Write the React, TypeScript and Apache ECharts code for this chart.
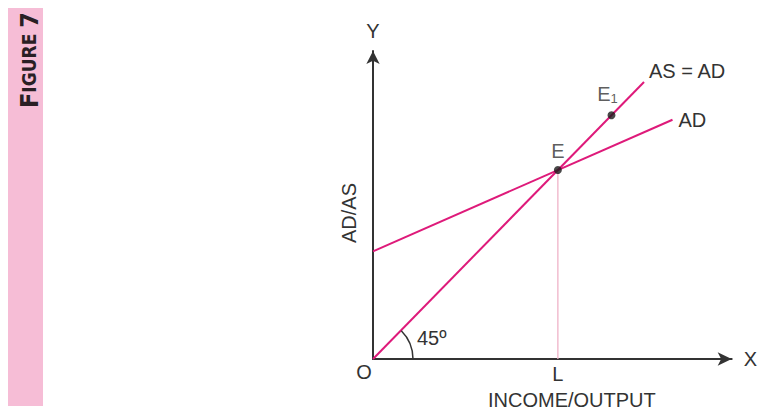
import React, { useEffect, useRef } from "react";
import * as echarts from "echarts";

// Keynesian cross: aggregate supply (45° line) against aggregate demand
const xMax = 97;
const yMax = 81.5;
const originPoint = [0, 0];
const equilibrium = [50, 50]; // E
const pointE1 = [64.5, 64.5]; // E1
const asLine = [
  [0, 0],
  [73.3, 73.3],
];
const adLine = [
  [0, 28.5],
  [81, 63.3],
];
const incomeLine = [
  [50, 0],
  [50, 50],
];
const xTickValues = [50];
const xTickLabels = ["L"];

const FONT = '"Liberation Sans", Arial, Helvetica, sans-serif';
const INK = "#333333";
const MAGENTA = "#de1a7a";
const SOFT_PINK = "#efb2c8";
const BAND_PINK = "#f6bdd6";

export default function App() {
  const ref = useRef<HTMLDivElement>(null);

  useEffect(() => {
    document.body.style.margin = "0";
    if (!ref.current) return;
    const chart = echarts.init(ref.current, undefined, { renderer: "svg" });

    const text = (size = 20) => ({ fontSize: size, color: INK, fontFamily: FONT });

    chart.setOption({
      animation: false,
      grid: { left: 373, right: 20, top: 51, bottom: 52 },
      xAxis: {
        type: "value",
        min: 0,
        max: xMax,
        name: "X",
        nameLocation: "end",
        nameGap: 12,
        nameTextStyle: text(),
        axisLine: {
          show: true,
          onZero: false,
          symbol: ["none", "arrow"],
          symbolSize: [10, 14],
          lineStyle: { color: INK, width: 2 },
        },
        axisTick: { show: false },
        splitLine: { show: false },
        axisLabel: {
          customValues: xTickValues,
          formatter: (v: number) => xTickLabels[xTickValues.indexOf(v)] ?? "",
          margin: 5,
          ...text(),
        },
      },
      yAxis: {
        type: "value",
        min: 0,
        max: yMax,
        name: "Y",
        nameLocation: "end",
        nameGap: 10,
        nameTextStyle: text(),
        axisLine: {
          show: true,
          onZero: false,
          symbol: ["none", "arrow"],
          symbolSize: [10, 13],
          lineStyle: { color: INK, width: 2 },
        },
        axisTick: { show: false },
        splitLine: { show: false },
        axisLabel: { show: false },
      },
      series: [
        {
          name: "L",
          type: "line",
          data: incomeLine,
          showSymbol: false,
          lineStyle: { color: SOFT_PINK, width: 1.3 },
          z: 1,
        },
        {
          name: "AS = AD",
          type: "line",
          data: asLine,
          showSymbol: false,
          lineStyle: { color: MAGENTA, width: 2 },
          endLabel: {
            show: true,
            formatter: "AS = AD",
            distance: 5,
            offset: [0, -11],
            ...text(),
          },
          z: 3,
        },
        {
          name: "AD",
          type: "line",
          data: adLine,
          showSymbol: false,
          lineStyle: { color: MAGENTA, width: 2 },
          endLabel: {
            show: true,
            formatter: "AD",
            distance: 6,
            ...text(),
          },
          z: 3,
        },
        {
          name: "points",
          type: "scatter",
          symbolSize: 8,
          itemStyle: { color: "#1a1a1a" },
          z: 5,
          data: [
            {
              value: equilibrium,
              label: { show: true, position: "top", distance: 5, formatter: "E", ...text() },
            },
            {
              value: pointE1,
              label: {
                show: true,
                position: "top",
                distance: 6,
                offset: [-4, 0],
                formatter: "{a|E}{b|1}",
                rich: {
                  a: { fontSize: 20, lineHeight: 22, color: INK, fontFamily: FONT },
                  b: {
                    fontSize: 13,
                    lineHeight: 13,
                    verticalAlign: "bottom",
                    color: INK,
                    fontFamily: FONT,
                  },
                },
              },
            },
          ],
        },
      ],
    });

    const o = chart.convertToPixel({ gridIndex: 0 }, originPoint) as number[];
    const l = chart.convertToPixel({ gridIndex: 0 }, incomeLine[0]) as number[];

    chart.setOption({
      graphic: [
        // side band with the figure number
        {
          type: "rect",
          shape: { x: 8, y: 8, width: 35, height: 398 },
          style: { fill: BAND_PINK },
          z: 0,
        },
        {
          type: "text",
          x: 29,
          y: 60,
          rotation: Math.PI / 2,
          style: {
            text: "{b|F}{s|IGURE }{b|7}",
            align: "center",
            verticalAlign: "middle",
            rich: {
              b: {
                fontSize: 25,
                fontWeight: "bold",
                fontFamily: '"DejaVu Sans Condensed", "DejaVu Sans", sans-serif',
                fill: "#2a1f24",
              },
              s: {
                fontSize: 19,
                fontWeight: "bold",
                fontFamily: '"DejaVu Sans Condensed", "DejaVu Sans", sans-serif',
                fill: "#2a1f24",
              },
            },
          },
          z: 1,
        },
        // 45° angle marker at the origin
        {
          type: "arc",
          shape: {
            cx: o[0],
            cy: o[1],
            r: 40,
            startAngle: -Math.PI / 4,
            endAngle: 0,
            clockwise: true,
          },
          style: { stroke: INK, lineWidth: 1.5, fill: "none" },
          z: 10,
        },
        {
          type: "text",
          x: o[0] + 44,
          y: o[1] - 21,
          style: { text: "45º", align: "left", verticalAlign: "middle", font: `20px ${FONT}`, fill: INK },
          z: 10,
        },
        {
          type: "text",
          x: o[0] - 9,
          y: o[1] + 13,
          style: { text: "O", align: "center", verticalAlign: "middle", font: `20px ${FONT}`, fill: INK },
          z: 10,
        },
        {
          type: "text",
          x: l[0] + 14,
          y: o[1] + 51,
          style: {
            text: "INCOME/OUTPUT",
            align: "center",
            verticalAlign: "bottom",
            font: `20px ${FONT}`,
            fill: INK,
          },
          z: 10,
        },
        {
          type: "text",
          x: o[0] - 24,
          y: 213,
          rotation: Math.PI / 2,
          style: { text: "AD/AS", align: "center", verticalAlign: "middle", font: `20px ${FONT}`, fill: INK },
          z: 10,
        },
      ],
    });

    return () => chart.dispose();
  }, []);

  return <div ref={ref} style={{ width: 760, height: 411 }} />;
}
